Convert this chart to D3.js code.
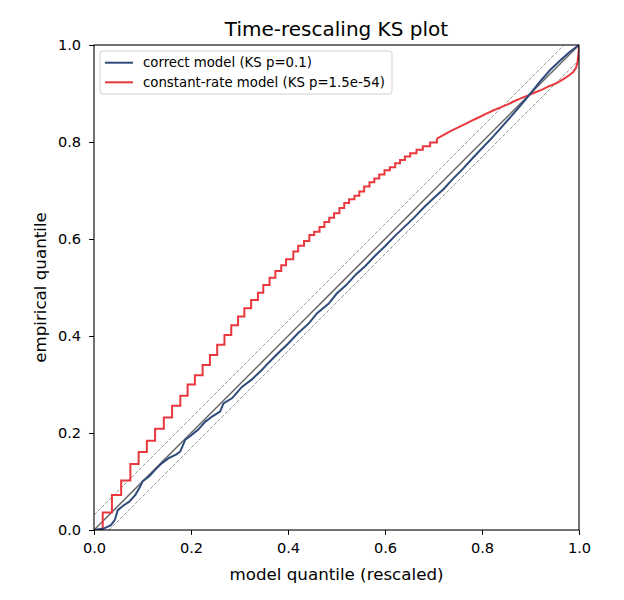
<!DOCTYPE html>
<html>
<head>
<meta charset="utf-8">
<script src="https://cdn.jsdelivr.net/npm/d3@7"></script>
<style>
  body { margin: 0; background: #fff; }
  text { font-family: "DejaVu Sans", sans-serif; fill: #000; }
</style>
</head>
<body>
<div id="ks-plot"></div>
<script>
// tick labels
const xTicks = [0, 0.2, 0.4, 0.6, 0.8, 1.0];
const yTicks = [0, 0.2, 0.4, 0.6, 0.8, 1.0];

// KS confidence band half-width
const ksBand = 0.031;

// correct model
const blueX = [0, 0.02, 0.035, 0.043, 0.049, 0.06, 0.072, 0.085, 0.095, 0.1, 0.115, 0.126, 0.14, 0.154, 0.17, 0.178,
  0.188, 0.2, 0.215, 0.229, 0.245, 0.26, 0.267, 0.285, 0.305, 0.325, 0.346, 0.36, 0.38, 0.401, 0.42, 0.443, 0.46,
  0.484, 0.5, 0.52, 0.54, 0.56, 0.58, 0.6, 0.62, 0.64, 0.66, 0.68, 0.7, 0.72, 0.74, 0.76, 0.78, 0.8, 0.82, 0.84,
  0.86, 0.88, 0.9, 0.92, 0.94, 0.96, 0.98, 1.0];
const blueY = [0, 0.003, 0.01, 0.021, 0.041, 0.05, 0.058, 0.072, 0.089, 0.1, 0.112, 0.124, 0.138, 0.148, 0.156, 0.162,
  0.186, 0.195, 0.207, 0.223, 0.235, 0.244, 0.261, 0.272, 0.295, 0.31, 0.33, 0.345, 0.365, 0.385, 0.405, 0.426, 0.447,
  0.467, 0.487, 0.505, 0.527, 0.545, 0.566, 0.585, 0.606, 0.625, 0.644, 0.665, 0.684, 0.702, 0.724, 0.744, 0.766, 0.787,
  0.808, 0.83, 0.853, 0.876, 0.9, 0.925, 0.948, 0.967, 0.985, 1.0];

// constant-rate model, step corners
const redStepX = [0, 0.018, 0.037, 0.056, 0.075, 0.092, 0.109, 0.126, 0.144, 0.161, 0.178, 0.193, 0.208, 0.224, 0.239,
  0.254, 0.269, 0.283, 0.297, 0.31, 0.324, 0.338, 0.349, 0.362, 0.374, 0.386, 0.396, 0.411, 0.421, 0.433, 0.444,
  0.454, 0.465, 0.475, 0.485, 0.495, 0.506, 0.516, 0.526, 0.537, 0.547, 0.557, 0.568, 0.578, 0.588, 0.599, 0.61,
  0.621, 0.631, 0.641, 0.652, 0.665, 0.678, 0.693, 0.707];
const redStepY = [0, 0.036, 0.072, 0.102, 0.136, 0.161, 0.184, 0.209, 0.232, 0.256, 0.277, 0.3, 0.319, 0.34, 0.361,
  0.382, 0.402, 0.422, 0.44, 0.457, 0.474, 0.489, 0.505, 0.52, 0.534, 0.546, 0.558, 0.574, 0.586, 0.596, 0.608,
  0.615, 0.625, 0.635, 0.644, 0.653, 0.664, 0.674, 0.682, 0.689, 0.698, 0.708, 0.717, 0.725, 0.733, 0.742, 0.748,
  0.756, 0.763, 0.77, 0.777, 0.784, 0.791, 0.799, 0.807];
// upper part, where the steps are too fine to see
const redTailX = [0.707, 0.722, 0.736, 0.751, 0.765, 0.779, 0.794, 0.808, 0.823, 0.837, 0.852,
  0.866, 0.88, 0.895, 0.909, 0.924, 0.938, 0.953, 0.967, 0.979, 0.988, 0.994, 0.997, 0.999, 1.0];
const redTailY = [0.807, 0.815, 0.823, 0.83, 0.837, 0.844, 0.851, 0.858, 0.865, 0.871, 0.877,
  0.884, 0.89, 0.896, 0.902, 0.908, 0.915, 0.921, 0.929, 0.937, 0.944, 0.953, 0.965, 0.981, 1.0];

const seriesNames = ["correct model (KS p=0.1)", "constant-rate model (KS p=1.5e-54)"];
const seriesColors = ["#2f4b7c", "#e8383d"];

const margin = {top: 45, right: 45, bottom: 70, left: 94},
  width = 485, height = 485;

const svg = d3.select("#ks-plot").append("svg")
  .attr("width", 624).attr("height", 600);

const g = svg.append("g")
  .attr("transform", "translate(" + margin.left + "," + margin.top + ")");

const x = d3.scaleLinear().domain([0, 1]).range([0, width]);
const y = d3.scaleLinear().domain([0, 1]).range([height, 0]);

g.append("clipPath").attr("id", "clip")
  .append("rect").attr("width", width).attr("height", height);

const plot = g.append("g").attr("clip-path", "url(#clip)");

// reference diagonal and KS band
plot.append("line")
  .attr("x1", x(0)).attr("y1", y(0)).attr("x2", x(1)).attr("y2", y(1))
  .attr("stroke", "#666").attr("stroke-width", 1.5);

[ksBand, -ksBand].forEach(off => {
  plot.append("line")
    .attr("x1", x(0)).attr("y1", y(off)).attr("x2", x(1)).attr("y2", y(1 + off))
    .attr("stroke", "#999").attr("stroke-width", 1)
    .attr("stroke-dasharray", "3.7,1.6");
});

const blueData = blueX.map((v, i) => [v, blueY[i]]);
const redStep = redStepX.map((v, i) => [v, redStepY[i]]);
const redTail = redTailX.map((v, i) => [v, redTailY[i]]);

const lineXY = d3.line().x(d => x(d[0])).y(d => y(d[1]));

plot.append("path")
  .datum(redStep)
  .attr("fill", "none")
  .attr("stroke", seriesColors[1])
  .attr("stroke-width", 2)
  .attr("d", lineXY.curve(d3.curveStepAfter));

plot.append("path")
  .datum(redTail)
  .attr("fill", "none")
  .attr("stroke", seriesColors[1])
  .attr("stroke-width", 2)
  .attr("d", lineXY.curve(d3.curveLinear));

plot.append("path")
  .datum(blueData)
  .attr("fill", "none")
  .attr("stroke", seriesColors[0])
  .attr("stroke-width", 2)
  .attr("d", lineXY.curve(d3.curveLinear));

// axes
const xAxis = g.append("g")
  .attr("transform", "translate(0," + height + ")")
  .call(d3.axisBottom(x).tickValues(xTicks).tickFormat(d3.format(".1f")).tickSize(4.9).tickPadding(8));
const yAxis = g.append("g")
  .call(d3.axisLeft(y).tickValues(yTicks).tickFormat(d3.format(".1f")).tickSize(4.9).tickPadding(8));

[xAxis, yAxis].forEach(a => {
  a.select(".domain").remove();
  a.selectAll("line").attr("stroke", "#000").attr("stroke-width", 1);
  a.selectAll("text").attr("font-size", "14.6px").attr("font-family", "DejaVu Sans");
});

// frame
g.append("rect").attr("width", width).attr("height", height)
  .attr("fill", "none").attr("stroke", "#000").attr("stroke-width", 1.1);

// labels
svg.append("text")
  .attr("x", margin.left + width / 2).attr("y", 36)
  .attr("text-anchor", "middle").attr("font-size", "20px")
  .text("Time-rescaling KS plot");

svg.append("text")
  .attr("x", margin.left + width / 2).attr("y", 580)
  .attr("text-anchor", "middle").attr("font-size", "16.7px")
  .text("model quantile (rescaled)");

svg.append("text")
  .attr("transform", "translate(46," + (margin.top + height / 2) + ") rotate(-90)")
  .attr("text-anchor", "middle").attr("font-size", "16.7px")
  .text("empirical quantile");

// legend
const legend = g.append("g").attr("transform", "translate(6,6)");
legend.append("rect")
  .attr("width", 292).attr("height", 43).attr("rx", 3)
  .attr("fill", "#fff").attr("fill-opacity", 0.8)
  .attr("stroke", "#d0d0d0").attr("stroke-width", 1);

seriesNames.forEach((name, i) => {
  const ly = 11.7 + i * 19.6;
  legend.append("line")
    .attr("x1", 5).attr("x2", 33).attr("y1", ly).attr("y2", ly)
    .attr("stroke", seriesColors[i]).attr("stroke-width", 2);
  legend.append("text")
    .attr("x", 43).attr("y", ly + 4.5)
    .attr("font-size", "13.3px")
    .text(name);
});
</script>
</body>
</html>
